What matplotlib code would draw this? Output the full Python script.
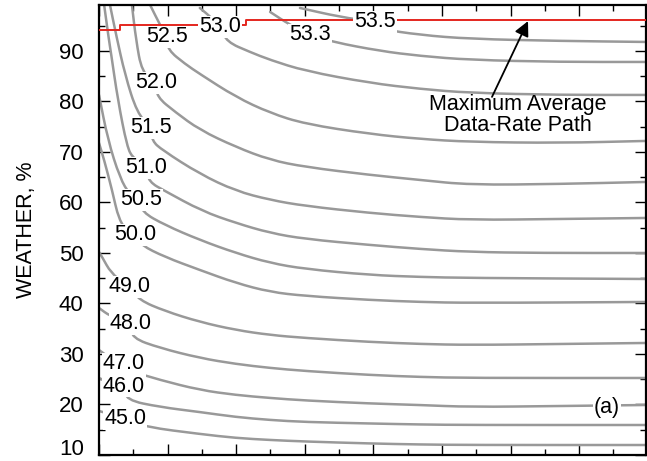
import matplotlib
matplotlib.use('Agg')
import matplotlib.pyplot as plt
from matplotlib.path import Path
from matplotlib.patches import PathPatch
from matplotlib.ticker import MultipleLocator

plt.rcParams['font.family'] = ['Liberation Sans', 'DejaVu Sans']

# contour levels and traced lines (x: arbitrary units 0..16, y: weather %)
levels = ['53.5', '53.3', '53.0', '52.5', '52.0', '51.5', '51.0',
          '50.5', '50.0', '49.0', '48.0', '47.0', '46.0', '45.0']

line_x = [
    [5.86, 7.03, 8.05, 8.19, 9.36, 10.82, 13.44, 15.95],
    [4.99, 5.57, 6.15, 6.82, 8.19, 9.36, 10.82, 13.44, 15.95],
    [2.94, 3.29, 3.53, 3.73, 4.40, 4.99, 6.01, 7.90, 9.36, 10.82, 13.44, 15.95],
    [1.49, 1.78, 1.98, 2.01, 2.51, 2.94, 3.99, 4.99, 6.01, 7.90, 9.36, 10.82, 13.44, 15.95],
    [0.96, 1.08, 1.25, 1.66, 1.69, 2.22, 2.94, 3.99, 4.99, 6.01, 7.90, 9.36, 10.82, 13.44, 15.95],
    [0.32, 0.50, 0.76, 1.11, 1.52, 1.55, 1.84, 2.94, 3.99, 4.99, 6.01, 7.90, 9.36, 10.82, 13.44, 15.95],
    [0.15, 0.29, 0.35, 0.55, 0.82, 0.99, 1.37, 1.46, 1.92, 3.00, 3.99, 4.99, 6.01, 7.90, 9.36, 10.82, 12.86, 15.95],
    [0.00, 0.26, 0.61, 0.90, 1.22, 1.25, 1.92, 2.94, 3.99, 4.99, 6.01, 7.90, 9.36, 10.82, 15.95],
    [0.00, 0.15, 0.38, 0.58, 0.85, 1.05, 1.22, 1.92, 2.94, 3.99, 4.99, 6.01, 7.90, 9.36, 10.82, 15.95],
    [0.00, 0.09, 0.35, 0.76, 0.90, 1.17, 1.92, 2.94, 3.99, 4.99, 6.01, 7.90, 9.36, 10.82, 13.44, 15.95],
    [0.00, 0.32, 0.93, 0.96, 1.78, 2.94, 3.99, 4.99, 6.01, 7.90, 9.36, 10.82, 15.95],
    [0.00, 0.32, 0.73, 0.82, 1.78, 2.94, 3.99, 4.99, 6.01, 7.90, 9.36, 10.82, 13.44, 15.95],
    [0.00, 0.32, 0.73, 0.79, 1.78, 2.94, 3.99, 4.99, 6.01, 7.90, 9.36, 10.82, 15.95],
    [0.00, 0.32, 0.76, 1.37, 2.94, 3.99, 4.99, 6.01, 7.90, 9.36, 10.82, 15.95],
]
line_y = [
    [98.51, 96.73, 95.74, 94.36, 93.17, 92.38, 91.98, 91.78],
    [97.72, 95.15, 93.17, 91.78, 90.00, 89.01, 88.22, 87.82, 87.82],
    [98.51, 96.53, 94.75, 91.78, 89.80, 88.22, 86.04, 83.66, 82.48, 81.68, 81.29, 81.29],
    [99.11, 95.15, 92.77, 90.20, 87.43, 85.45, 80.89, 77.72, 75.54, 73.56, 72.57, 71.98, 71.78, 72.18],
    [99.11, 92.18, 85.84, 83.66, 80.89, 77.92, 74.36, 70.99, 68.42, 67.03, 65.45, 64.46, 63.47, 63.66, 64.06],
    [99.11, 93.17, 85.25, 77.72, 74.75, 72.18, 70.40, 65.64, 62.28, 60.50, 59.31, 57.92, 57.13, 56.53, 56.73, 56.93],
    [99.11, 92.18, 89.60, 80.30, 70.99, 68.81, 66.83, 64.06, 62.28, 58.32, 55.94, 53.96, 52.77, 51.58, 50.79, 50.20, 50.00, 50.00],
    [81.29, 72.38, 64.85, 61.49, 60.50, 58.12, 55.54, 52.57, 50.00, 48.02, 46.83, 45.64, 45.25, 45.05, 44.85],
    [71.78, 68.42, 62.48, 56.53, 54.16, 53.56, 51.58, 49.21, 46.63, 44.06, 42.28, 41.49, 40.69, 40.30, 40.10, 40.30],
    [50.20, 49.21, 46.04, 43.86, 43.27, 40.69, 38.51, 36.34, 34.75, 33.76, 33.17, 32.38, 31.98, 31.78, 31.98, 32.18],
    [39.11, 37.52, 35.94, 33.17, 31.19, 29.21, 28.02, 27.23, 26.63, 25.84, 25.45, 25.25, 25.25],
    [30.79, 29.21, 28.02, 26.83, 24.85, 22.87, 21.88, 21.29, 20.79, 20.20, 19.90, 19.50, 19.70, 19.90],
    [25.25, 24.26, 23.66, 20.89, 19.50, 18.51, 17.52, 16.93, 16.53, 16.24, 16.04, 15.94, 15.94],
    [18.71, 18.12, 17.13, 15.54, 14.16, 13.37, 12.97, 12.67, 12.28, 12.08, 11.98, 11.98],
]
label_x = [8.05, 6.15, 3.53, 1.98, 1.66, 1.52, 1.37, 1.22, 1.05, 0.90, 0.93, 0.73, 0.73, 0.76]
label_y = [95.74, 93.17, 94.75, 92.77, 83.66, 74.75, 66.83, 60.50, 53.56, 43.27, 35.94, 28.02, 23.66, 17.13]

# maximum average data-rate path (steps)
path_x = [0.0, 0.61, 4.30, 16.0]
path_y = [94.2, 95.15, 96.1, 96.1]


def smooth_path(xs, ys):
    # quadratic bezier through midpoints, the traced points act as control points
    pts = list(zip(xs, ys))
    verts = [pts[0], ((pts[0][0] + pts[1][0]) / 2, (pts[0][1] + pts[1][1]) / 2)]
    codes = [Path.MOVETO, Path.LINETO]
    for i in range(1, len(pts) - 1):
        mid = ((pts[i][0] + pts[i + 1][0]) / 2, (pts[i][1] + pts[i + 1][1]) / 2)
        verts += [pts[i], mid]
        codes += [Path.CURVE3, Path.CURVE3]
    verts.append(pts[-1])
    codes.append(Path.LINETO)
    return Path(verts, codes)


fig = plt.figure(figsize=(6.47, 4.61), dpi=100)
ax = fig.add_axes([0.1530, 0.0130, 0.8454, 0.9762])

for xs, ys in zip(line_x, line_y):
    ax.add_patch(PathPatch(smooth_path(xs, ys), fill=False, edgecolor='#999999',
                           lw=1.8, capstyle='round', joinstyle='round', zorder=2))

ax.plot(path_x, path_y, color='#e4261e', lw=1.4, drawstyle='steps-post', zorder=3)

box = dict(facecolor='white', edgecolor='none', pad=0.6)
for lev, lx, ly in zip(levels, label_x, label_y):
    ax.text(lx, ly, lev, fontsize=15.5, ha='center', va='center', bbox=box, zorder=5)

ax.text(12.22, 77.3, 'Maximum Average\nData-Rate Path', fontsize=15.5, ha='center',
        va='center', linespacing=1.0, zorder=5)
ax.annotate('', xy=(12.51, 95.9), xytext=(11.46, 80.9),
            arrowprops=dict(arrowstyle='-|>', color='black', lw=1.3,
                            mutation_scale=22, shrinkA=0, shrinkB=0), zorder=6)
ax.text(14.81, 19.5, '(a)', fontsize=15.5, ha='center', va='center', bbox=box, zorder=5)

ax.set_xlim(0, 15.95)
ax.set_ylim(10, 99.1)
ax.xaxis.set_major_locator(MultipleLocator(2))
ax.xaxis.set_minor_locator(MultipleLocator(1))
ax.yaxis.set_major_locator(MultipleLocator(10))
ax.yaxis.set_minor_locator(MultipleLocator(5))
ax.set_xticklabels([])
ax.tick_params(which='both', direction='in', top=True, right=True, width=1.0)
ax.tick_params(which='major', length=8, labelsize=16)
ax.tick_params(which='minor', length=4.5)
ax.tick_params(axis='y', pad=11)
for sp in ax.spines.values():
    sp.set_linewidth(1.6)

ax.set_ylabel('WEATHER, %', fontsize=15.5, labelpad=16)

fig.canvas.draw()
for lbl in ax.get_yticklabels():
    if lbl.get_text() == '10':
        lbl.set_va('baseline')

fig.savefig('out.png', dpi=100)
